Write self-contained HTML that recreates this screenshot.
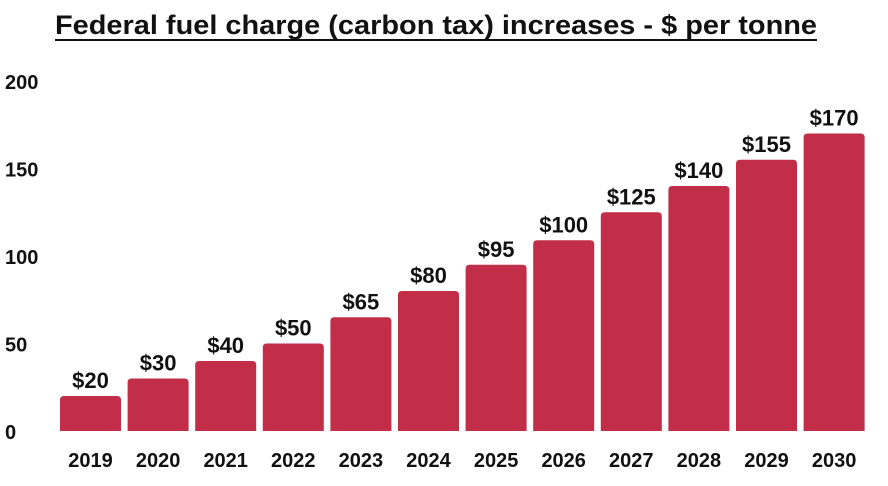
<!DOCTYPE html>
<html><head><meta charset="utf-8"><style>
body{margin:0;background:#fff;}
svg text{font-family:"Liberation Sans",sans-serif;font-weight:bold;fill:#111;}
</style></head><body>
<svg id="chart" width="888" height="481" viewBox="0 0 888 481" xmlns="http://www.w3.org/2000/svg">
<text x="55" y="34" font-size="27" textLength="762" lengthAdjust="spacingAndGlyphs">Federal fuel charge (carbon tax) increases - $ per tonne</text>
<line x1="55" y1="40" x2="817" y2="40" stroke="#111" stroke-width="2"/>
<g id="yaxis"></g>
<g id="bars"></g>
</svg>
<script>
const categories=["2019","2020","2021","2022","2023","2024","2025","2026","2027","2028","2029","2030"];
const values=[20,30,40,50,65,80,95,109,125,140,155,170];
const labels=["$20","$30","$40","$50","$65","$80","$95","$100","$125","$140","$155","$170"];
const yTicks=[0,50,100,150,200];
const NS="http://www.w3.org/2000/svg";
function y(v){return 431-v*1.75;}
function x(i){return 60+i*67.6;}
const bw=61;
const ya=document.getElementById('yaxis');
yTicks.forEach(t=>{
  const tx=document.createElementNS(NS,'text');
  
  
  tx.setAttribute('x',5);tx.setAttribute('y',y(t)+8);
  tx.setAttribute('font-size','20');
  tx.textContent=t;ya.appendChild(tx);
});
const g=document.getElementById('bars');
values.forEach((v,i)=>{
  const r=document.createElementNS(NS,'path');
  
  
  const x0=x(i),x1=x0+bw,y0=y(v),yb=y(0),rr=4;
  r.setAttribute('d',`M${x0},${yb}V${y0+rr}Q${x0},${y0} ${x0+rr},${y0}H${x1-rr}Q${x1},${y0} ${x1},${y0+rr}V${yb}Z`);
  r.setAttribute('fill','#c22d47');g.appendChild(r);
  const vl=document.createElementNS(NS,'text');
  
  
  vl.setAttribute('x',x0+bw/2);vl.setAttribute('y',y0-8);
  vl.setAttribute('text-anchor','middle');vl.setAttribute('font-size','22');
  vl.textContent=labels[i];g.appendChild(vl);
  const cl=document.createElementNS(NS,'text');
  
  
  cl.setAttribute('x',x0+bw/2);cl.setAttribute('y',467);
  cl.setAttribute('text-anchor','middle');cl.setAttribute('font-size','20');
  cl.textContent=categories[i];g.appendChild(cl);
});
</script>
</body></html>
